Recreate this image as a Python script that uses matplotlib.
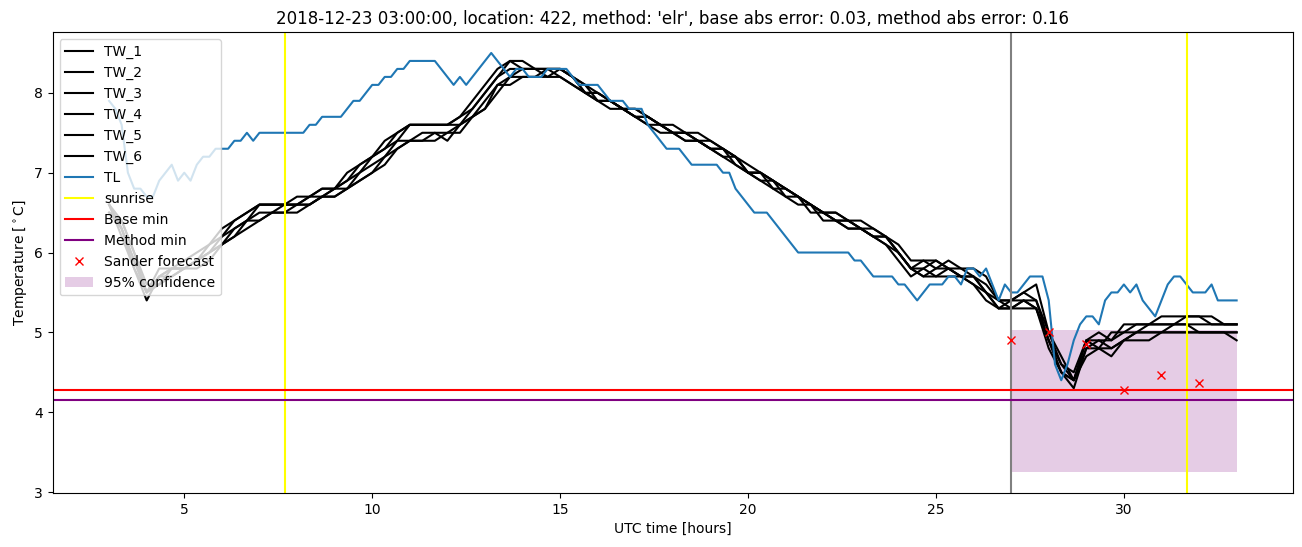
import numpy as np
import matplotlib.pyplot as plt

# time axes (hours UTC)
t_tl = np.linspace(3, 33, 181)   # 10 min
t_tw = np.linspace(3, 33, 91)    # 20 min

TL = [7.9, 7.8, 7.6, 7.0, 6.8, 6.8, 6.7, 6.7, 6.9, 7.0, 7.1, 6.9, 7.0, 6.9, 7.1, 7.2,
      7.2, 7.3, 7.3, 7.3, 7.4, 7.4, 7.5, 7.4, 7.5, 7.5, 7.5, 7.5, 7.5, 7.5, 7.5, 7.5,
      7.6, 7.6, 7.7, 7.7, 7.7, 7.7, 7.8, 7.9, 7.9, 8.0, 8.1, 8.1, 8.2, 8.2, 8.3, 8.3,
      8.4, 8.4, 8.4, 8.4, 8.4, 8.3, 8.2, 8.1, 8.2, 8.1, 8.2, 8.3, 8.4, 8.5, 8.4, 8.3,
      8.2, 8.3, 8.3, 8.2, 8.2, 8.2, 8.3, 8.3, 8.3, 8.3, 8.2, 8.1, 8.1, 8.1, 8.1, 8.0,
      7.9, 7.9, 7.9, 7.8, 7.8, 7.8, 7.6, 7.5, 7.4, 7.3, 7.3, 7.3, 7.2, 7.1, 7.1, 7.1,
      7.1, 7.1, 7.0, 7.0, 6.8, 6.7, 6.6, 6.5, 6.5, 6.5, 6.4, 6.3, 6.2, 6.1, 6.0, 6.0,
      6.0, 6.0, 6.0, 6.0, 6.0, 6.0, 6.0, 5.9, 5.9, 5.8, 5.7, 5.7, 5.7, 5.7, 5.6, 5.6,
      5.5, 5.4, 5.5, 5.6, 5.6, 5.6, 5.7, 5.7, 5.6, 5.8, 5.8, 5.7, 5.8, 5.6, 5.4, 5.6,
      5.5, 5.5, 5.6, 5.7, 5.7, 5.7, 5.4, 4.6, 4.4, 4.6, 4.9, 5.1, 5.2, 5.2, 5.1, 5.4,
      5.5, 5.5, 5.6, 5.5, 5.6, 5.4, 5.3, 5.2, 5.4, 5.6, 5.7, 5.7, 5.6, 5.5, 5.5, 5.5,
      5.6, 5.4, 5.4, 5.4, 5.4]

TW_1 = [6.6, 6.2, 5.8, 5.5, 5.8, 5.8, 5.9, 6.0, 6.1, 6.3, 6.4, 6.5, 6.6, 6.6, 6.6, 6.7,
        6.7, 6.8, 6.8, 7.0, 7.1, 7.2, 7.4, 7.5, 7.6, 7.6, 7.6, 7.6, 7.7, 7.9, 8.1, 8.3,
        8.4, 8.4, 8.3, 8.3, 8.3, 8.2, 8.1, 8.0, 7.9, 7.8, 7.8, 7.7, 7.6, 7.6, 7.5, 7.5,
        7.4, 7.3, 7.2, 7.1, 7.0, 6.9, 6.8, 6.7, 6.6, 6.5, 6.5, 6.4, 6.4, 6.3, 6.2, 6.1,
        5.9, 5.9, 5.8, 5.9, 5.8, 5.8, 5.7, 5.4, 5.4, 5.5, 5.6, 5.0, 4.7, 4.4, 4.9, 5.0,
        4.9, 5.1, 5.1, 5.1, 5.2, 5.2, 5.2, 5.2, 5.2, 5.1, 5.1]
TW_2 = [6.6, 6.3, 5.9, 5.5, 5.7, 5.8, 5.8, 5.9, 6.1, 6.2, 6.4, 6.5, 6.6, 6.6, 6.6, 6.6,
        6.7, 6.8, 6.8, 6.9, 7.0, 7.2, 7.3, 7.5, 7.6, 7.6, 7.6, 7.6, 7.6, 7.8, 8.0, 8.2,
        8.4, 8.3, 8.3, 8.3, 8.3, 8.2, 8.0, 8.0, 7.9, 7.8, 7.7, 7.7, 7.6, 7.5, 7.5, 7.4,
        7.4, 7.3, 7.2, 7.0, 7.0, 6.9, 6.8, 6.7, 6.6, 6.5, 6.4, 6.4, 6.3, 6.3, 6.2, 6.0,
        5.8, 5.9, 5.9, 5.8, 5.8, 5.7, 5.6, 5.4, 5.4, 5.5, 5.4, 5.0, 4.6, 4.5, 4.9, 4.8,
        5.0, 5.0, 5.1, 5.1, 5.1, 5.1, 5.2, 5.2, 5.1, 5.1, 5.1]
TW_3 = [6.5, 6.3, 5.8, 5.4, 5.7, 5.8, 5.8, 5.9, 6.0, 6.2, 6.3, 6.4, 6.6, 6.6, 6.6, 6.6,
        6.7, 6.7, 6.8, 6.9, 7.1, 7.2, 7.3, 7.4, 7.6, 7.6, 7.6, 7.6, 7.7, 7.8, 8.0, 8.2,
        8.3, 8.3, 8.3, 8.3, 8.3, 8.2, 8.1, 7.9, 7.9, 7.8, 7.8, 7.7, 7.6, 7.5, 7.5, 7.4,
        7.3, 7.3, 7.1, 7.0, 7.0, 6.8, 6.8, 6.7, 6.6, 6.5, 6.5, 6.4, 6.3, 6.2, 6.2, 6.0,
        5.8, 5.8, 5.9, 5.8, 5.7, 5.7, 5.5, 5.4, 5.3, 5.4, 5.4, 4.9, 4.6, 4.4, 4.9, 4.9,
        4.9, 5.0, 5.0, 5.1, 5.1, 5.1, 5.1, 5.1, 5.1, 5.1, 5.1]
TW_4 = [6.6, 6.4, 6.0, 5.5, 5.6, 5.8, 5.8, 5.9, 6.0, 6.1, 6.2, 6.4, 6.4, 6.5, 6.5, 6.6,
        6.6, 6.7, 6.7, 6.8, 6.9, 7.0, 7.2, 7.3, 7.4, 7.4, 7.5, 7.5, 7.6, 7.7, 7.9, 8.1,
        8.2, 8.3, 8.3, 8.2, 8.3, 8.2, 8.0, 8.0, 7.9, 7.8, 7.7, 7.7, 7.6, 7.5, 7.5, 7.4,
        7.3, 7.3, 7.2, 7.0, 7.0, 6.9, 6.8, 6.7, 6.6, 6.5, 6.4, 6.4, 6.3, 6.2, 6.2, 6.0,
        5.8, 5.7, 5.8, 5.8, 5.7, 5.7, 5.5, 5.3, 5.4, 5.4, 5.3, 4.9, 4.5, 4.4, 4.8, 4.9,
        4.8, 4.9, 5.0, 5.0, 5.0, 5.1, 5.1, 5.0, 5.0, 5.0, 5.0]
TW_5 = [6.5, 6.4, 6.0, 5.6, 5.6, 5.7, 5.8, 5.8, 5.9, 6.1, 6.2, 6.3, 6.4, 6.5, 6.5, 6.5,
        6.6, 6.7, 6.7, 6.8, 6.9, 7.0, 7.1, 7.3, 7.4, 7.4, 7.4, 7.5, 7.5, 7.7, 7.8, 8.1,
        8.1, 8.2, 8.2, 8.2, 8.2, 8.1, 8.0, 7.9, 7.9, 7.8, 7.7, 7.6, 7.6, 7.5, 7.4, 7.4,
        7.3, 7.2, 7.2, 7.0, 6.9, 6.9, 6.7, 6.7, 6.5, 6.5, 6.4, 6.3, 6.3, 6.2, 6.1, 6.0,
        5.8, 5.7, 5.7, 5.7, 5.7, 5.6, 5.5, 5.3, 5.3, 5.4, 5.3, 4.9, 4.5, 4.3, 4.8, 4.8,
        4.7, 4.9, 4.9, 4.9, 5.0, 5.0, 5.0, 5.0, 5.0, 5.0, 4.9]
TW_6 = [6.6, 6.3, 5.9, 5.5, 5.7, 5.7, 5.8, 5.9, 6.0, 6.1, 6.3, 6.4, 6.5, 6.5, 6.6, 6.6,
        6.6, 6.7, 6.8, 6.8, 7.0, 7.1, 7.2, 7.4, 7.4, 7.5, 7.5, 7.4, 7.6, 7.7, 7.8, 8.0,
        8.2, 8.2, 8.2, 8.3, 8.2, 8.1, 8.0, 7.9, 7.8, 7.8, 7.7, 7.6, 7.5, 7.5, 7.4, 7.4,
        7.3, 7.2, 7.1, 7.0, 6.9, 6.8, 6.7, 6.6, 6.6, 6.4, 6.4, 6.3, 6.3, 6.2, 6.1, 5.9,
        5.7, 5.8, 5.7, 5.8, 5.7, 5.6, 5.4, 5.3, 5.3, 5.3, 5.3, 4.8, 4.5, 4.4, 4.7, 4.8,
        4.8, 4.9, 5.0, 5.0, 5.0, 5.0, 5.0, 5.0, 5.0, 5.0, 5.0]

sunrise = [7.69, 31.68]
forecast_time = 27
base_min = 4.28
method_min = 4.155

sander_t = [27, 28, 29, 30, 31, 32]
sander_T = [4.91, 5.0, 4.86, 4.28, 4.47, 4.36]

conf_t = [27, 33]
conf_low = 3.25
conf_high = 5.035

fig = plt.figure(figsize=(13.02, 5.47), dpi=100)
ax = fig.add_axes([0.0405, 0.0987, 0.9526, 0.8428])

for name, tw in zip(["TW_1", "TW_2", "TW_3", "TW_4", "TW_5", "TW_6"],
                    [TW_1, TW_2, TW_3, TW_4, TW_5, TW_6]):
    ax.plot(t_tw, tw, color="black", label=name)
ax.plot(t_tl, TL, color="tab:blue", label="TL")

ax.axvline(sunrise[0], color="yellow", label="sunrise")
ax.axvline(sunrise[1], color="yellow")
ax.axvline(forecast_time, color="gray")
ax.axhline(base_min, color="red", label="Base min")
ax.axhline(method_min, color="purple", label="Method min")
ax.plot(sander_t, sander_T, "x", color="red", label="Sander forecast")
ax.fill_between(conf_t, conf_low, conf_high, color="purple", alpha=0.2,
                linewidth=0, label="95% confidence")

ax.set_title("2018-12-23 03:00:00, location: 422, method: 'elr', "
             "base abs error: 0.03, method abs error: 0.16")
ax.set_xlabel("UTC time [hours]")
ax.set_ylabel(r"Temperature [$^\circ$C]")
ax.legend(loc="upper left")

fig.savefig("out.png", dpi=100)
